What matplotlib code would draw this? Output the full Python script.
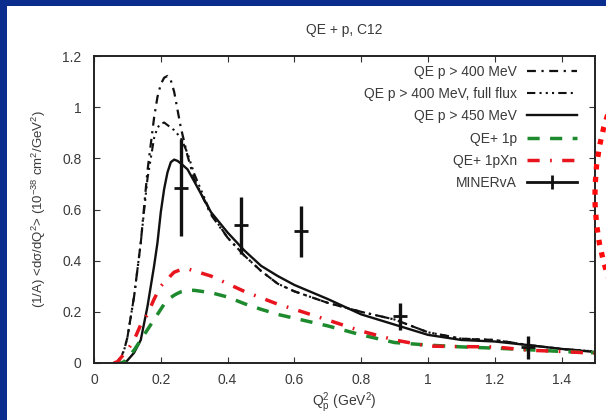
import matplotlib
matplotlib.use("Agg")
import matplotlib.pyplot as plt
from matplotlib.lines import Line2D
from matplotlib.patches import Rectangle, Ellipse
import numpy as np

plt.rcParams['font.family'] = ['Liberation Sans', 'DejaVu Sans']
plt.rcParams['mathtext.fontset'] = 'custom'
plt.rcParams['mathtext.rm'] = 'Liberation Sans'
plt.rcParams['mathtext.it'] = 'Liberation Sans'

# ---- data ----
q2 = [0.06, 0.07, 0.08, 0.09, 0.10, 0.12, 0.14, 0.16, 0.18, 0.19, 0.20, 0.21, 0.22, 0.23,
      0.24, 0.25, 0.26, 0.28, 0.30, 0.35, 0.40, 0.45, 0.50, 0.55, 0.60, 0.70, 0.80,
      0.90, 1.00, 1.10, 1.20, 1.30, 1.40, 1.50]

qe400 = [0.0, 0.0, 0.02, 0.05, 0.10, 0.26, 0.47, 0.75, 0.96, 1.04, 1.09, 1.115, 1.122, 1.105,
         1.06, 0.99, 0.92, 0.81, 0.72, 0.58, 0.49, 0.42, 0.36, 0.31, 0.28, 0.235, 0.20,
         0.17, 0.12, 0.095, 0.09, 0.07, 0.055, 0.045]

qe400_ff = [0.0, 0.0, 0.02, 0.05, 0.10, 0.26, 0.47, 0.72, 0.88, 0.92, 0.935, 0.94, 0.93, 0.92,
            0.91, 0.895, 0.88, 0.82, 0.74, 0.585, 0.49, 0.42, 0.36, 0.31, 0.28, 0.235, 0.20,
            0.17, 0.12, 0.095, 0.09, 0.07, 0.055, 0.045]

qe450 = [0.0, 0.0, 0.0, 0.0, 0.01, 0.04, 0.09, 0.22, 0.38, 0.47, 0.59, 0.68, 0.745, 0.785,
         0.795, 0.79, 0.78, 0.757, 0.71, 0.59, 0.51, 0.44, 0.38, 0.34, 0.305, 0.25, 0.19,
         0.15, 0.11, 0.09, 0.084, 0.07, 0.055, 0.043]

qe_1p = [0.0, 0.0, 0.0, 0.005, 0.02, 0.05, 0.09, 0.13, 0.17, 0.19, 0.21, 0.23, 0.245, 0.256,
         0.265, 0.272, 0.278, 0.284, 0.284, 0.275, 0.258, 0.232, 0.21, 0.19, 0.175, 0.145, 0.11,
         0.08, 0.07, 0.063, 0.058, 0.052, 0.045, 0.04]

qe_1pxn = [0.0, 0.005, 0.02, 0.035, 0.05, 0.09, 0.15, 0.19, 0.25, 0.275, 0.30, 0.315, 0.325, 0.342,
           0.355, 0.36, 0.365, 0.368, 0.36, 0.34, 0.31, 0.28, 0.255, 0.23, 0.21, 0.168, 0.125,
           0.09, 0.066, 0.064, 0.063, 0.05, 0.045, 0.038]

minerva_x = [0.26, 0.44, 0.62, 0.915, 1.30]
minerva_y = [0.685, 0.538, 0.515, 0.182, 0.062]
minerva_err = [0.19, 0.11, 0.10, 0.052, 0.045]

xticks = [0, 0.2, 0.4, 0.6, 0.8, 1.0, 1.2, 1.4]
xticklabels = ["0", "0.2", "0.4", "0.6", "0.8", "1", "1.2", "1.4"]
yticks = [0, 0.2, 0.4, 0.6, 0.8, 1.0, 1.2]
yticklabels = ["0", "0.2", "0.4", "0.6", "0.8", "1", "1.2"]

labels = ["QE p > 400 MeV", "QE p > 400 MeV, full flux", "QE p > 450 MeV",
          "QE+ 1p", "QE+ 1pXn", "MINERvA"]

# ---- figure ----
W, H = 606, 420
fig = plt.figure(figsize=(W / 100, H / 100), dpi=100)
fig.patch.set_facecolor('#0b2d8e')
fig.patches.append(Rectangle((7 / W, 0), 1, (H - 6) / H, transform=fig.transFigure,
                             facecolor='white', edgecolor='none', zorder=-10))

ax = fig.add_axes([94 / W, 57 / H, (595 - 94) / W, (363 - 56) / H])
txt = '#3a3a3a'

ax.plot(q2, qe400, color='#111111', lw=1.6, linestyle=(0, (4, 2.5, 1, 2.5)))
ax.plot(q2, qe400_ff, color='#111111', lw=1.5, linestyle=(0, (4, 2, 1, 2, 1, 2, 1, 2)))
ax.plot(q2, qe450, color='#111111', lw=1.7, linestyle='-')
ax.plot(q2, qe_1p, color='#1e8a2e', lw=2.5, linestyle=(0, (3.5, 3)))
ax.plot(q2, qe_1pxn, color='#e8141e', lw=2.5, linestyle=(0, (3.5, 3, 0.5, 3)))
ax.errorbar(minerva_x, minerva_y, yerr=minerva_err, fmt='_', color='#111111',
            ms=10, mew=2, elinewidth=2.4, capsize=0, zorder=5)

handles = [
    Line2D([], [], color='#111111', lw=1.6, linestyle=(0, (4, 2.5, 1, 2.5))),
    Line2D([], [], color='#111111', lw=1.5, linestyle=(0, (4, 2, 1, 2, 1, 2, 1, 2))),
    Line2D([], [], color='#111111', lw=1.7),
    Line2D([], [], color='#1e8a2e', lw=2.5, linestyle=(0, (3.5, 3))),
    Line2D([], [], color='#e8141e', lw=2.5, linestyle=(0, (3.5, 3, 0.5, 3))),
    Line2D([], [], color='#111111', lw=2, marker='|', ms=10, mew=2),
]
leg = ax.legend(handles, labels, loc='upper right', frameon=False, markerfirst=False,
                fontsize=10, handlelength=3.6, handletextpad=0.75, labelspacing=0.6,
                borderaxespad=0.0, bbox_to_anchor=(0.976, 0.99))
for t in leg.get_texts():
    t.set_color(txt)

ax.set_xlim(0, 1.5)
ax.set_ylim(0, 1.2)
ax.set_xticks(xticks)
ax.set_xticklabels(xticklabels)
ax.set_yticks(yticks)
ax.set_yticklabels(yticklabels)
ax.tick_params(direction='in', top=True, right=True, length=4, width=0.8,
               labelsize=10, labelcolor=txt, color='#333333')
ax.tick_params(axis='x', pad=7)
ax.tick_params(axis='y', pad=9)
for s in ax.spines.values():
    s.set_linewidth(1.4)
    s.set_color('#222222')

ax.set_title('QE + p, C12', fontsize=10, color=txt, pad=16)
ax.set_xlabel(r'Q$^2_{\rm p}$ (GeV$^2$)', fontsize=10, color=txt, labelpad=3)
ax.set_ylabel(r'(1/A) <d$\sigma$/dQ$^2$> (10$^{-38}$ cm$^2$/GeV$^2$)', fontsize=9.5,
              color=txt, labelpad=10)

# red dotted annotation ellipse (partly outside the canvas)
ell = Ellipse((745 / W, (H - 195) / H), 300 / W, 400 / H, transform=fig.transFigure,
              fill=False, edgecolor='#ff0a0a', lw=3.8, linestyle=(0, (1.0, 1.4)),
              clip_on=False, zorder=20)
fig.patches.append(ell)

fig.savefig('out.png', dpi=100)
